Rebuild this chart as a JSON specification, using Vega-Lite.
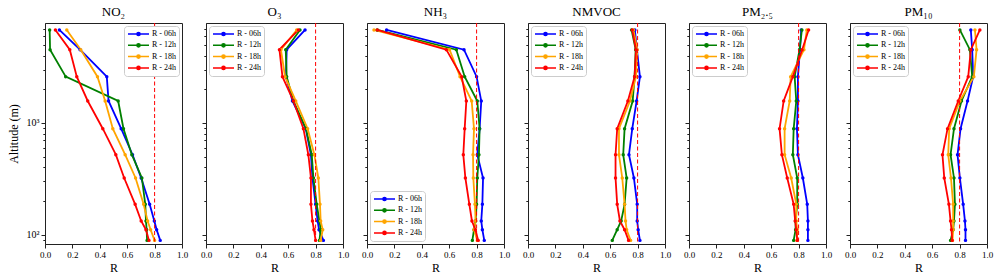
{
  "$schema": "https://vega.github.io/schema/vega-lite/v6.json",
  "padding": {"left": 6, "top": 5, "right": 0, "bottom": 0},
  "bounds": "flush",
  "spacing": 24,
  "datasets": {
    "d": [
      {"p":"NO2","s":"R - 06h","z":6802,"r":0.105},{"p":"NO2","s":"R - 06h","z":4530,"r":0.256},{"p":"NO2","s":"R - 06h","z":2598,"r":0.451},{"p":"NO2","s":"R - 06h","z":1574,"r":0.464},{"p":"NO2","s":"R - 06h","z":889,"r":0.556},{"p":"NO2","s":"R - 06h","z":520,"r":0.639},{"p":"NO2","s":"R - 06h","z":322,"r":0.702},{"p":"NO2","s":"R - 06h","z":187,"r":0.764},{"p":"NO2","s":"R - 06h","z":132.7,"r":0.798},{"p":"NO2","s":"R - 06h","z":110.9,"r":0.815},{"p":"NO2","s":"R - 06h","z":89,"r":0.841},
      {"p":"NO2","s":"R - 12h","z":6802,"r":0.034},{"p":"NO2","s":"R - 12h","z":4530,"r":0.037},{"p":"NO2","s":"R - 12h","z":2598,"r":0.151},{"p":"NO2","s":"R - 12h","z":1574,"r":0.534},{"p":"NO2","s":"R - 12h","z":889,"r":0.573},{"p":"NO2","s":"R - 12h","z":520,"r":0.634},{"p":"NO2","s":"R - 12h","z":322,"r":0.707},{"p":"NO2","s":"R - 12h","z":187,"r":0.732},{"p":"NO2","s":"R - 12h","z":132.7,"r":0.737},{"p":"NO2","s":"R - 12h","z":110.9,"r":0.742},{"p":"NO2","s":"R - 12h","z":89,"r":0.745},
      {"p":"NO2","s":"R - 18h","z":6802,"r":0.159},{"p":"NO2","s":"R - 18h","z":4530,"r":0.261},{"p":"NO2","s":"R - 18h","z":2598,"r":0.383},{"p":"NO2","s":"R - 18h","z":1574,"r":0.439},{"p":"NO2","s":"R - 18h","z":889,"r":0.495},{"p":"NO2","s":"R - 18h","z":520,"r":0.585},{"p":"NO2","s":"R - 18h","z":322,"r":0.661},{"p":"NO2","s":"R - 18h","z":187,"r":0.720},{"p":"NO2","s":"R - 18h","z":132.7,"r":0.749},{"p":"NO2","s":"R - 18h","z":110.9,"r":0.771},{"p":"NO2","s":"R - 18h","z":89,"r":0.800},
      {"p":"NO2","s":"R - 24h","z":6802,"r":0.076},{"p":"NO2","s":"R - 24h","z":4530,"r":0.181},{"p":"NO2","s":"R - 24h","z":2598,"r":0.232},{"p":"NO2","s":"R - 24h","z":1574,"r":0.312},{"p":"NO2","s":"R - 24h","z":889,"r":0.422},{"p":"NO2","s":"R - 24h","z":520,"r":0.517},{"p":"NO2","s":"R - 24h","z":322,"r":0.578},{"p":"NO2","s":"R - 24h","z":187,"r":0.658},{"p":"NO2","s":"R - 24h","z":132.7,"r":0.702},{"p":"NO2","s":"R - 24h","z":110.9,"r":0.737},{"p":"NO2","s":"R - 24h","z":89,"r":0.759},

      {"p":"O3","s":"R - 06h","z":6802,"r":0.723},{"p":"O3","s":"R - 06h","z":4530,"r":0.589},{"p":"O3","s":"R - 06h","z":2598,"r":0.584},{"p":"O3","s":"R - 06h","z":1574,"r":0.631},{"p":"O3","s":"R - 06h","z":889,"r":0.728},{"p":"O3","s":"R - 06h","z":520,"r":0.766},{"p":"O3","s":"R - 06h","z":322,"r":0.777},{"p":"O3","s":"R - 06h","z":187,"r":0.800},{"p":"O3","s":"R - 06h","z":132.7,"r":0.815},{"p":"O3","s":"R - 06h","z":110.9,"r":0.825},{"p":"O3","s":"R - 06h","z":89,"r":0.857},
      {"p":"O3","s":"R - 12h","z":6802,"r":0.686},{"p":"O3","s":"R - 12h","z":4530,"r":0.582},{"p":"O3","s":"R - 12h","z":2598,"r":0.589},{"p":"O3","s":"R - 12h","z":1574,"r":0.638},{"p":"O3","s":"R - 12h","z":889,"r":0.730},{"p":"O3","s":"R - 12h","z":520,"r":0.772},{"p":"O3","s":"R - 12h","z":322,"r":0.784},{"p":"O3","s":"R - 12h","z":187,"r":0.808},{"p":"O3","s":"R - 12h","z":132.7,"r":0.828},{"p":"O3","s":"R - 12h","z":110.9,"r":0.837},{"p":"O3","s":"R - 12h","z":89,"r":0.828},
      {"p":"O3","s":"R - 18h","z":6802,"r":0.662},{"p":"O3","s":"R - 18h","z":4530,"r":0.547},{"p":"O3","s":"R - 18h","z":2598,"r":0.577},{"p":"O3","s":"R - 18h","z":1574,"r":0.655},{"p":"O3","s":"R - 18h","z":889,"r":0.742},{"p":"O3","s":"R - 18h","z":520,"r":0.791},{"p":"O3","s":"R - 18h","z":322,"r":0.820},{"p":"O3","s":"R - 18h","z":187,"r":0.832},{"p":"O3","s":"R - 18h","z":132.7,"r":0.837},{"p":"O3","s":"R - 18h","z":110.9,"r":0.852},{"p":"O3","s":"R - 18h","z":89,"r":0.837},
      {"p":"O3","s":"R - 24h","z":6802,"r":0.674},{"p":"O3","s":"R - 24h","z":4530,"r":0.536},{"p":"O3","s":"R - 24h","z":2598,"r":0.558},{"p":"O3","s":"R - 24h","z":1574,"r":0.638},{"p":"O3","s":"R - 24h","z":889,"r":0.711},{"p":"O3","s":"R - 24h","z":520,"r":0.747},{"p":"O3","s":"R - 24h","z":322,"r":0.766},{"p":"O3","s":"R - 24h","z":187,"r":0.766},{"p":"O3","s":"R - 24h","z":132.7,"r":0.777},{"p":"O3","s":"R - 24h","z":110.9,"r":0.788},{"p":"O3","s":"R - 24h","z":89,"r":0.800},

      {"p":"NH3","s":"R - 06h","z":6802,"r":0.143},{"p":"NH3","s":"R - 06h","z":4530,"r":0.708},{"p":"NH3","s":"R - 06h","z":2598,"r":0.800},{"p":"NH3","s":"R - 06h","z":1574,"r":0.834},{"p":"NH3","s":"R - 06h","z":889,"r":0.822},{"p":"NH3","s":"R - 06h","z":520,"r":0.805},{"p":"NH3","s":"R - 06h","z":322,"r":0.847},{"p":"NH3","s":"R - 06h","z":187,"r":0.842},{"p":"NH3","s":"R - 06h","z":132.7,"r":0.834},{"p":"NH3","s":"R - 06h","z":110.9,"r":0.842},{"p":"NH3","s":"R - 06h","z":89,"r":0.856},
      {"p":"NH3","s":"R - 12h","z":6802,"r":0.075},{"p":"NH3","s":"R - 12h","z":4530,"r":0.652},{"p":"NH3","s":"R - 12h","z":2598,"r":0.713},{"p":"NH3","s":"R - 12h","z":1574,"r":0.805},{"p":"NH3","s":"R - 12h","z":889,"r":0.822},{"p":"NH3","s":"R - 12h","z":520,"r":0.817},{"p":"NH3","s":"R - 12h","z":322,"r":0.805},{"p":"NH3","s":"R - 12h","z":187,"r":0.800},{"p":"NH3","s":"R - 12h","z":132.7,"r":0.793},{"p":"NH3","s":"R - 12h","z":110.9,"r":0.781},{"p":"NH3","s":"R - 12h","z":89,"r":0.769},
      {"p":"NH3","s":"R - 18h","z":6802,"r":0.051},{"p":"NH3","s":"R - 18h","z":4530,"r":0.603},{"p":"NH3","s":"R - 18h","z":2598,"r":0.679},{"p":"NH3","s":"R - 18h","z":1574,"r":0.764},{"p":"NH3","s":"R - 18h","z":889,"r":0.781},{"p":"NH3","s":"R - 18h","z":520,"r":0.774},{"p":"NH3","s":"R - 18h","z":322,"r":0.776},{"p":"NH3","s":"R - 18h","z":187,"r":0.788},{"p":"NH3","s":"R - 18h","z":132.7,"r":0.793},{"p":"NH3","s":"R - 18h","z":110.9,"r":0.781},{"p":"NH3","s":"R - 18h","z":89,"r":0.805},
      {"p":"NH3","s":"R - 24h","z":6802,"r":0.075},{"p":"NH3","s":"R - 24h","z":4530,"r":0.579},{"p":"NH3","s":"R - 24h","z":2598,"r":0.691},{"p":"NH3","s":"R - 24h","z":1574,"r":0.725},{"p":"NH3","s":"R - 24h","z":889,"r":0.713},{"p":"NH3","s":"R - 24h","z":520,"r":0.703},{"p":"NH3","s":"R - 24h","z":322,"r":0.718},{"p":"NH3","s":"R - 24h","z":187,"r":0.747},{"p":"NH3","s":"R - 24h","z":132.7,"r":0.766},{"p":"NH3","s":"R - 24h","z":110.9,"r":0.791},{"p":"NH3","s":"R - 24h","z":89,"r":0.812},

      {"p":"NMVOC","s":"R - 06h","z":6802,"r":0.780},{"p":"NMVOC","s":"R - 06h","z":4530,"r":0.795},{"p":"NMVOC","s":"R - 06h","z":2598,"r":0.817},{"p":"NMVOC","s":"R - 06h","z":1574,"r":0.793},{"p":"NMVOC","s":"R - 06h","z":889,"r":0.761},{"p":"NMVOC","s":"R - 06h","z":520,"r":0.737},{"p":"NMVOC","s":"R - 06h","z":322,"r":0.773},{"p":"NMVOC","s":"R - 06h","z":187,"r":0.797},{"p":"NMVOC","s":"R - 06h","z":132.7,"r":0.797},{"p":"NMVOC","s":"R - 06h","z":110.9,"r":0.804},{"p":"NMVOC","s":"R - 06h","z":89,"r":0.817},
      {"p":"NMVOC","s":"R - 12h","z":6802,"r":0.756},{"p":"NMVOC","s":"R - 12h","z":4530,"r":0.786},{"p":"NMVOC","s":"R - 12h","z":2598,"r":0.778},{"p":"NMVOC","s":"R - 12h","z":1574,"r":0.764},{"p":"NMVOC","s":"R - 12h","z":889,"r":0.705},{"p":"NMVOC","s":"R - 12h","z":520,"r":0.695},{"p":"NMVOC","s":"R - 12h","z":322,"r":0.720},{"p":"NMVOC","s":"R - 12h","z":187,"r":0.705},{"p":"NMVOC","s":"R - 12h","z":132.7,"r":0.680},{"p":"NMVOC","s":"R - 12h","z":110.9,"r":0.651},{"p":"NMVOC","s":"R - 12h","z":89,"r":0.615},
      {"p":"NMVOC","s":"R - 18h","z":6802,"r":0.770},{"p":"NMVOC","s":"R - 18h","z":4530,"r":0.797},{"p":"NMVOC","s":"R - 18h","z":2598,"r":0.788},{"p":"NMVOC","s":"R - 18h","z":1574,"r":0.744},{"p":"NMVOC","s":"R - 18h","z":889,"r":0.664},{"p":"NMVOC","s":"R - 18h","z":520,"r":0.664},{"p":"NMVOC","s":"R - 18h","z":322,"r":0.688},{"p":"NMVOC","s":"R - 18h","z":187,"r":0.705},{"p":"NMVOC","s":"R - 18h","z":132.7,"r":0.712},{"p":"NMVOC","s":"R - 18h","z":110.9,"r":0.720},{"p":"NMVOC","s":"R - 18h","z":89,"r":0.749},
      {"p":"NMVOC","s":"R - 24h","z":6802,"r":0.761},{"p":"NMVOC","s":"R - 24h","z":4530,"r":0.788},{"p":"NMVOC","s":"R - 24h","z":2598,"r":0.778},{"p":"NMVOC","s":"R - 24h","z":1574,"r":0.729},{"p":"NMVOC","s":"R - 24h","z":889,"r":0.651},{"p":"NMVOC","s":"R - 24h","z":520,"r":0.639},{"p":"NMVOC","s":"R - 24h","z":322,"r":0.639},{"p":"NMVOC","s":"R - 24h","z":187,"r":0.651},{"p":"NMVOC","s":"R - 24h","z":132.7,"r":0.671},{"p":"NMVOC","s":"R - 24h","z":110.9,"r":0.705},{"p":"NMVOC","s":"R - 24h","z":89,"r":0.734},

      {"p":"PM25","s":"R - 06h","z":6802,"r":0.819},{"p":"PM25","s":"R - 06h","z":4530,"r":0.810},{"p":"PM25","s":"R - 06h","z":2598,"r":0.795},{"p":"PM25","s":"R - 06h","z":1574,"r":0.795},{"p":"PM25","s":"R - 06h","z":889,"r":0.788},{"p":"PM25","s":"R - 06h","z":520,"r":0.795},{"p":"PM25","s":"R - 06h","z":322,"r":0.831},{"p":"PM25","s":"R - 06h","z":187,"r":0.863},{"p":"PM25","s":"R - 06h","z":132.7,"r":0.868},{"p":"PM25","s":"R - 06h","z":110.9,"r":0.868},{"p":"PM25","s":"R - 06h","z":89,"r":0.868},
      {"p":"PM25","s":"R - 12h","z":6802,"r":0.824},{"p":"PM25","s":"R - 12h","z":4530,"r":0.807},{"p":"PM25","s":"R - 12h","z":2598,"r":0.771},{"p":"PM25","s":"R - 12h","z":1574,"r":0.783},{"p":"PM25","s":"R - 12h","z":889,"r":0.764},{"p":"PM25","s":"R - 12h","z":520,"r":0.758},{"p":"PM25","s":"R - 12h","z":322,"r":0.790},{"p":"PM25","s":"R - 12h","z":187,"r":0.790},{"p":"PM25","s":"R - 12h","z":132.7,"r":0.778},{"p":"PM25","s":"R - 12h","z":110.9,"r":0.778},{"p":"PM25","s":"R - 12h","z":89,"r":0.764},
      {"p":"PM25","s":"R - 18h","z":6802,"r":0.860},{"p":"PM25","s":"R - 18h","z":4530,"r":0.839},{"p":"PM25","s":"R - 18h","z":2598,"r":0.742},{"p":"PM25","s":"R - 18h","z":1574,"r":0.735},{"p":"PM25","s":"R - 18h","z":889,"r":0.698},{"p":"PM25","s":"R - 18h","z":520,"r":0.698},{"p":"PM25","s":"R - 18h","z":322,"r":0.746},{"p":"PM25","s":"R - 18h","z":187,"r":0.783},{"p":"PM25","s":"R - 18h","z":132.7,"r":0.783},{"p":"PM25","s":"R - 18h","z":110.9,"r":0.790},{"p":"PM25","s":"R - 18h","z":89,"r":0.788},
      {"p":"PM25","s":"R - 24h","z":6802,"r":0.873},{"p":"PM25","s":"R - 24h","z":4530,"r":0.826},{"p":"PM25","s":"R - 24h","z":2598,"r":0.758},{"p":"PM25","s":"R - 24h","z":1574,"r":0.691},{"p":"PM25","s":"R - 24h","z":889,"r":0.661},{"p":"PM25","s":"R - 24h","z":520,"r":0.678},{"p":"PM25","s":"R - 24h","z":322,"r":0.717},{"p":"PM25","s":"R - 24h","z":187,"r":0.764},{"p":"PM25","s":"R - 24h","z":132.7,"r":0.775},{"p":"PM25","s":"R - 24h","z":110.9,"r":0.783},{"p":"PM25","s":"R - 24h","z":89,"r":0.790},

      {"p":"PM10","s":"R - 06h","z":6802,"r":0.882},{"p":"PM10","s":"R - 06h","z":4530,"r":0.892},{"p":"PM10","s":"R - 06h","z":2598,"r":0.899},{"p":"PM10","s":"R - 06h","z":1574,"r":0.858},{"p":"PM10","s":"R - 06h","z":889,"r":0.807},{"p":"PM10","s":"R - 06h","z":520,"r":0.785},{"p":"PM10","s":"R - 06h","z":322,"r":0.802},{"p":"PM10","s":"R - 06h","z":187,"r":0.826},{"p":"PM10","s":"R - 06h","z":132.7,"r":0.839},{"p":"PM10","s":"R - 06h","z":110.9,"r":0.843},{"p":"PM10","s":"R - 06h","z":89,"r":0.843},
      {"p":"PM10","s":"R - 12h","z":6802,"r":0.802},{"p":"PM10","s":"R - 12h","z":4530,"r":0.875},{"p":"PM10","s":"R - 12h","z":2598,"r":0.892},{"p":"PM10","s":"R - 12h","z":1574,"r":0.814},{"p":"PM10","s":"R - 12h","z":889,"r":0.759},{"p":"PM10","s":"R - 12h","z":520,"r":0.734},{"p":"PM10","s":"R - 12h","z":322,"r":0.759},{"p":"PM10","s":"R - 12h","z":187,"r":0.766},{"p":"PM10","s":"R - 12h","z":132.7,"r":0.759},{"p":"PM10","s":"R - 12h","z":110.9,"r":0.753},{"p":"PM10","s":"R - 12h","z":89,"r":0.734},
      {"p":"PM10","s":"R - 18h","z":6802,"r":0.912},{"p":"PM10","s":"R - 18h","z":4530,"r":0.924},{"p":"PM10","s":"R - 18h","z":2598,"r":0.904},{"p":"PM10","s":"R - 18h","z":1574,"r":0.802},{"p":"PM10","s":"R - 18h","z":889,"r":0.724},{"p":"PM10","s":"R - 18h","z":520,"r":0.717},{"p":"PM10","s":"R - 18h","z":322,"r":0.737},{"p":"PM10","s":"R - 18h","z":187,"r":0.753},{"p":"PM10","s":"R - 18h","z":132.7,"r":0.753},{"p":"PM10","s":"R - 18h","z":110.9,"r":0.753},{"p":"PM10","s":"R - 18h","z":89,"r":0.748},
      {"p":"PM10","s":"R - 24h","z":6802,"r":0.948},{"p":"PM10","s":"R - 24h","z":4530,"r":0.882},{"p":"PM10","s":"R - 24h","z":2598,"r":0.863},{"p":"PM10","s":"R - 24h","z":1574,"r":0.790},{"p":"PM10","s":"R - 24h","z":889,"r":0.712},{"p":"PM10","s":"R - 24h","z":520,"r":0.675},{"p":"PM10","s":"R - 24h","z":322,"r":0.688},{"p":"PM10","s":"R - 24h","z":187,"r":0.722},{"p":"PM10","s":"R - 24h","z":132.7,"r":0.734},{"p":"PM10","s":"R - 24h","z":110.9,"r":0.741},{"p":"PM10","s":"R - 24h","z":89,"r":0.746}
    ]
  },
  "resolve": {"scale": {"color": "independent"}, "legend": {"color": "independent"}},
  "hconcat": [
    {
      "width": 137, "height": 221, "title": "NO₂",
      "data": {"name": "d"},
      "layer": [
        {"transform": [{"filter": "datum.p == 'NO2'"}], "mark": {"type": "line", "strokeWidth": 1.8},
         "encoding": {
           "x": {"field": "r", "type": "quantitative", "scale": {"domain": [0, 1], "nice": false}, "title": "R", "axis": {"tickCount": 5, "format": ".1f", "labelOverlap": false}},
           "y": {"field": "z", "type": "quantitative", "scale": {"type": "log", "domain": [82.6, 7850], "nice": false}, "title": "Altitude (m)",
                 "axis": {"values": [90,100,200,300,400,500,600,700,800,900,1000,2000,3000,4000,5000,6000,7000], "labelExpr": "datum.value == 100 ? '10²' : datum.value == 1000 ? '10³' : ''", "tickSize": {"condition": {"test": "datum.value == 100 || datum.value == 1000", "value": 4}, "value": 2.2}, "labelFontSize": 10, "titlePadding": 6, "labelOverlap": false}},
           "color": {"field": "s", "type": "nominal", "scale": {"domain": ["R - 06h","R - 12h","R - 18h","R - 24h"], "range": ["#0000ff","#008000","#ffa500","#ff0000"]},
                     "legend": {"orient": "top-right"}},
           "order": {"field": "z", "type": "quantitative"}
         }},
        {"transform": [{"filter": "datum.p == 'NO2'"}], "mark": {"type": "point", "filled": true, "size": 12, "opacity": 1},
         "encoding": {"x": {"field": "r", "type": "quantitative", "title": "R", "axis": {"tickCount": 5, "format": ".1f", "labelOverlap": false}}, "y": {"field": "z", "type": "quantitative"}, "color": {"field": "s", "type": "nominal", "legend": null}}},
        {"data": {"values": [{}]}, "mark": {"type": "rule", "color": "#ff0000", "strokeDash": [4, 2.5], "strokeWidth": 1}, "encoding": {"x": {"datum": 0.8, "title": "R", "axis": {"tickCount": 5, "format": ".1f", "labelOverlap": false}}}}
      ]
    },
    {
      "width": 137, "height": 221, "title": "O₃",
      "data": {"name": "d"},
      "layer": [
        {"transform": [{"filter": "datum.p == 'O3'"}], "mark": {"type": "line", "strokeWidth": 1.8},
         "encoding": {
           "x": {"field": "r", "type": "quantitative", "scale": {"domain": [0, 1], "nice": false}, "title": "R", "axis": {"tickCount": 5, "format": ".1f", "labelOverlap": false}},
           "y": {"field": "z", "type": "quantitative", "scale": {"type": "log", "domain": [82.6, 7850], "nice": false}, "title": null,
                 "axis": {"values": [90,100,200,300,400,500,600,700,800,900,1000,2000,3000,4000,5000,6000,7000], "labels": false, "tickSize": {"condition": {"test": "datum.value == 100 || datum.value == 1000", "value": 4}, "value": 2.2}}},
           "color": {"field": "s", "type": "nominal", "scale": {"domain": ["R - 06h","R - 12h","R - 18h","R - 24h"], "range": ["#0000ff","#008000","#ffa500","#ff0000"]},
                     "legend": {"orient": "top-left"}},
           "order": {"field": "z", "type": "quantitative"}
         }},
        {"transform": [{"filter": "datum.p == 'O3'"}], "mark": {"type": "point", "filled": true, "size": 12, "opacity": 1},
         "encoding": {"x": {"field": "r", "type": "quantitative", "title": "R", "axis": {"tickCount": 5, "format": ".1f", "labelOverlap": false}}, "y": {"field": "z", "type": "quantitative"}, "color": {"field": "s", "type": "nominal", "legend": null}}},
        {"data": {"values": [{}]}, "mark": {"type": "rule", "color": "#ff0000", "strokeDash": [4, 2.5], "strokeWidth": 1}, "encoding": {"x": {"datum": 0.8, "title": "R", "axis": {"tickCount": 5, "format": ".1f", "labelOverlap": false}}}}
      ]
    },
    {
      "width": 137, "height": 221, "title": "NH₃",
      "data": {"name": "d"},
      "layer": [
        {"transform": [{"filter": "datum.p == 'NH3'"}], "mark": {"type": "line", "strokeWidth": 1.8},
         "encoding": {
           "x": {"field": "r", "type": "quantitative", "scale": {"domain": [0, 1], "nice": false}, "title": "R", "axis": {"tickCount": 5, "format": ".1f", "labelOverlap": false}},
           "y": {"field": "z", "type": "quantitative", "scale": {"type": "log", "domain": [82.6, 7850], "nice": false}, "title": null,
                 "axis": {"values": [90,100,200,300,400,500,600,700,800,900,1000,2000,3000,4000,5000,6000,7000], "labels": false, "tickSize": {"condition": {"test": "datum.value == 100 || datum.value == 1000", "value": 4}, "value": 2.2}}},
           "color": {"field": "s", "type": "nominal", "scale": {"domain": ["R - 06h","R - 12h","R - 18h","R - 24h"], "range": ["#0000ff","#008000","#ffa500","#ff0000"]},
                     "legend": {"orient": "bottom-left"}},
           "order": {"field": "z", "type": "quantitative"}
         }},
        {"transform": [{"filter": "datum.p == 'NH3'"}], "mark": {"type": "point", "filled": true, "size": 12, "opacity": 1},
         "encoding": {"x": {"field": "r", "type": "quantitative", "title": "R", "axis": {"tickCount": 5, "format": ".1f", "labelOverlap": false}}, "y": {"field": "z", "type": "quantitative"}, "color": {"field": "s", "type": "nominal", "legend": null}}},
        {"data": {"values": [{}]}, "mark": {"type": "rule", "color": "#ff0000", "strokeDash": [4, 2.5], "strokeWidth": 1}, "encoding": {"x": {"datum": 0.8, "title": "R", "axis": {"tickCount": 5, "format": ".1f", "labelOverlap": false}}}}
      ]
    },
    {
      "width": 137, "height": 221, "title": "NMVOC",
      "data": {"name": "d"},
      "layer": [
        {"transform": [{"filter": "datum.p == 'NMVOC'"}], "mark": {"type": "line", "strokeWidth": 1.8},
         "encoding": {
           "x": {"field": "r", "type": "quantitative", "scale": {"domain": [0, 1], "nice": false}, "title": "R", "axis": {"tickCount": 5, "format": ".1f", "labelOverlap": false}},
           "y": {"field": "z", "type": "quantitative", "scale": {"type": "log", "domain": [82.6, 7850], "nice": false}, "title": null,
                 "axis": {"values": [90,100,200,300,400,500,600,700,800,900,1000,2000,3000,4000,5000,6000,7000], "labels": false, "tickSize": {"condition": {"test": "datum.value == 100 || datum.value == 1000", "value": 4}, "value": 2.2}}},
           "color": {"field": "s", "type": "nominal", "scale": {"domain": ["R - 06h","R - 12h","R - 18h","R - 24h"], "range": ["#0000ff","#008000","#ffa500","#ff0000"]},
                     "legend": {"orient": "top-left"}},
           "order": {"field": "z", "type": "quantitative"}
         }},
        {"transform": [{"filter": "datum.p == 'NMVOC'"}], "mark": {"type": "point", "filled": true, "size": 12, "opacity": 1},
         "encoding": {"x": {"field": "r", "type": "quantitative", "title": "R", "axis": {"tickCount": 5, "format": ".1f", "labelOverlap": false}}, "y": {"field": "z", "type": "quantitative"}, "color": {"field": "s", "type": "nominal", "legend": null}}},
        {"data": {"values": [{}]}, "mark": {"type": "rule", "color": "#ff0000", "strokeDash": [4, 2.5], "strokeWidth": 1}, "encoding": {"x": {"datum": 0.8, "title": "R", "axis": {"tickCount": 5, "format": ".1f", "labelOverlap": false}}}}
      ]
    },
    {
      "width": 137, "height": 221, "title": "PM₂.₅",
      "data": {"name": "d"},
      "layer": [
        {"transform": [{"filter": "datum.p == 'PM25'"}], "mark": {"type": "line", "strokeWidth": 1.8},
         "encoding": {
           "x": {"field": "r", "type": "quantitative", "scale": {"domain": [0, 1], "nice": false}, "title": "R", "axis": {"tickCount": 5, "format": ".1f", "labelOverlap": false}},
           "y": {"field": "z", "type": "quantitative", "scale": {"type": "log", "domain": [82.6, 7850], "nice": false}, "title": null,
                 "axis": {"values": [90,100,200,300,400,500,600,700,800,900,1000,2000,3000,4000,5000,6000,7000], "labels": false, "tickSize": {"condition": {"test": "datum.value == 100 || datum.value == 1000", "value": 4}, "value": 2.2}}},
           "color": {"field": "s", "type": "nominal", "scale": {"domain": ["R - 06h","R - 12h","R - 18h","R - 24h"], "range": ["#0000ff","#008000","#ffa500","#ff0000"]},
                     "legend": {"orient": "top-left"}},
           "order": {"field": "z", "type": "quantitative"}
         }},
        {"transform": [{"filter": "datum.p == 'PM25'"}], "mark": {"type": "point", "filled": true, "size": 12, "opacity": 1},
         "encoding": {"x": {"field": "r", "type": "quantitative", "title": "R", "axis": {"tickCount": 5, "format": ".1f", "labelOverlap": false}}, "y": {"field": "z", "type": "quantitative"}, "color": {"field": "s", "type": "nominal", "legend": null}}},
        {"data": {"values": [{}]}, "mark": {"type": "rule", "color": "#ff0000", "strokeDash": [4, 2.5], "strokeWidth": 1}, "encoding": {"x": {"datum": 0.8, "title": "R", "axis": {"tickCount": 5, "format": ".1f", "labelOverlap": false}}}}
      ]
    },
    {
      "width": 137, "height": 221, "title": "PM₁₀",
      "data": {"name": "d"},
      "layer": [
        {"transform": [{"filter": "datum.p == 'PM10'"}], "mark": {"type": "line", "strokeWidth": 1.8},
         "encoding": {
           "x": {"field": "r", "type": "quantitative", "scale": {"domain": [0, 1], "nice": false}, "title": "R", "axis": {"tickCount": 5, "format": ".1f", "labelOverlap": false}},
           "y": {"field": "z", "type": "quantitative", "scale": {"type": "log", "domain": [82.6, 7850], "nice": false}, "title": null,
                 "axis": {"values": [90,100,200,300,400,500,600,700,800,900,1000,2000,3000,4000,5000,6000,7000], "labels": false, "tickSize": {"condition": {"test": "datum.value == 100 || datum.value == 1000", "value": 4}, "value": 2.2}}},
           "color": {"field": "s", "type": "nominal", "scale": {"domain": ["R - 06h","R - 12h","R - 18h","R - 24h"], "range": ["#0000ff","#008000","#ffa500","#ff0000"]},
                     "legend": {"orient": "top-left"}},
           "order": {"field": "z", "type": "quantitative"}
         }},
        {"transform": [{"filter": "datum.p == 'PM10'"}], "mark": {"type": "point", "filled": true, "size": 12, "opacity": 1},
         "encoding": {"x": {"field": "r", "type": "quantitative", "title": "R", "axis": {"tickCount": 5, "format": ".1f", "labelOverlap": false}}, "y": {"field": "z", "type": "quantitative"}, "color": {"field": "s", "type": "nominal", "legend": null}}},
        {"data": {"values": [{}]}, "mark": {"type": "rule", "color": "#ff0000", "strokeDash": [4, 2.5], "strokeWidth": 1}, "encoding": {"x": {"datum": 0.8, "title": "R", "axis": {"tickCount": 5, "format": ".1f", "labelOverlap": false}}}}
      ]
    }
  ],
  "config": {
    "font": "Liberation Serif",
    "view": {"stroke": "#222222", "strokeWidth": 1},
    "title": {"font": "Liberation Serif", "fontSize": 13, "fontWeight": "normal", "offset": 4, "color": "black", "anchor": "middle"},
    "axis": {"grid": false, "labelFont": "Liberation Serif", "titleFont": "Liberation Serif", "labelFontSize": 9, "titleFontSize": 12, "titleFontWeight": "normal", "domainColor": "#222222", "tickColor": "#222222", "labelColor": "black", "titleColor": "black", "labelPadding": 2, "titlePadding": 3, "labelOverlap": false},
    "axisX": {"tickSize": 4, "labelFlush": false},
    "legend": {"title": null, "labelFont": "Liberation Serif", "labelFontSize": 8, "labelColor": "black", "fillColor": "white", "strokeColor": "#cccccc", "cornerRadius": 3, "padding": 3, "offset": 3, "rowPadding": 1.3,
      "symbolType": "M-1,0H4.25M1.225,0A0.4,0.4,0,1,1,2.025,0A0.4,0.4,0,1,1,1.225,0Z", "symbolSize": 64, "symbolStrokeWidth": 1.5, "labelOffset": 15,
      "encode": {"symbols": {"update": {"fill": {"signal": "datum.value == 'R - 06h' ? '#0000ff' : datum.value == 'R - 12h' ? '#008000' : datum.value == 'R - 18h' ? '#ffa500' : '#ff0000'"}}}}}
  }
}
